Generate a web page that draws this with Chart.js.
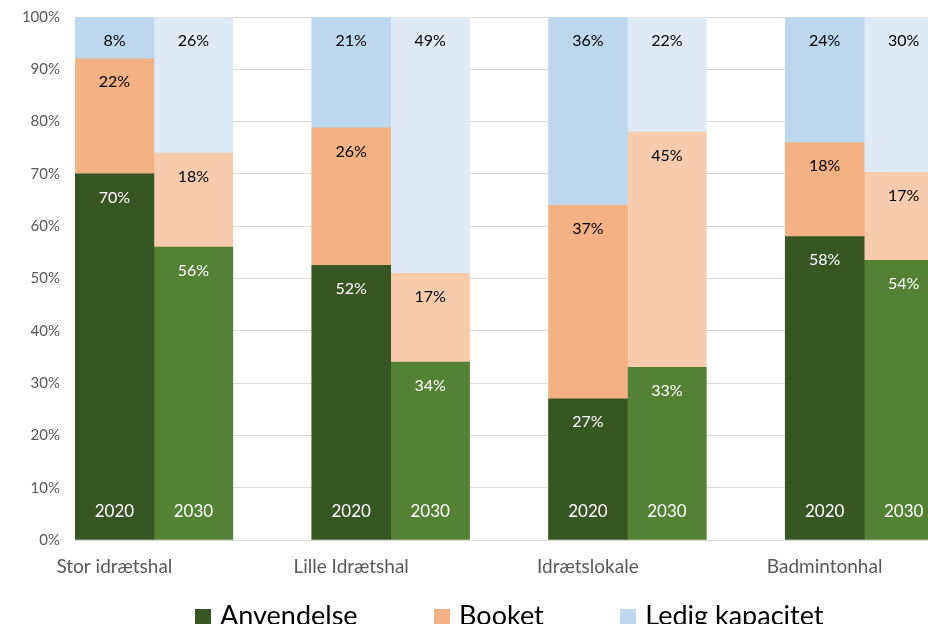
<!DOCTYPE html>
<html>
<head>
<meta charset="utf-8">
<script src="https://cdn.jsdelivr.net/npm/chart.js@4"></script>
<style>
  html, body { margin: 0; padding: 0; background: #fff; overflow: hidden; }
  #wrap { position: absolute; left: 0; top: 0; }
</style>
</head>
<body>
<div id="wrap">
  <canvas id="myChart" width="1022" height="702"></canvas>
</div>
<script>
const ctx = document.getElementById("myChart").getContext("2d");

const categories = ["Stor idrætshal", "Lille Idrætshal", "Idrætslokale", "Badmintonhal"];
const years = ["2020", "2030"];
const seriesNames = ["Anvendelse", "Booket", "Ledig kapacitet"];

// procent pr. hal og år
const anvendelse2020 = [70, 52, 27, 58];
const booket2020 = [22, 26, 37, 18];
const ledig2020 = [8, 21, 36, 24];
const anvendelse2030 = [56, 34, 33, 54];
const booket2030 = [18, 17, 45, 17];
const ledig2030 = [26, 49, 22, 30];

const colors2020 = ["#375623", "#F4B183", "#BDD7EE"];
const colors2030 = ["#548235", "#F8CBAD", "#DEEBF7"];

const FONT = "Lato";
const LEGEND_SIZE = 27;
const LEGEND_PAD = 80;

// 100% stablet: hver søjle skaleres til sin egen sum
function shares(parts, i) {
  const total = parts.reduce((acc, cur) => acc + cur[i], 0);
  return parts.map((p) => (p[i] / total) * 100);
}

function buildSets(year, parts, colors) {
  return parts.map((p, k) => ({
    label: seriesNames[k],
    year: year,
    raw: p,
    data: categories.map((c, i) => shares(parts, i)[k]),
    backgroundColor: colors[k],
    borderWidth: 0,
    stack: year,
    barPercentage: 1,
    categoryPercentage: 1,
  }));
}

const datasets = [
  ...buildSets(years[0], [anvendelse2020, booket2020, ledig2020], colors2020),
  ...buildSets(years[1], [anvendelse2030, booket2030, ledig2030], colors2030),
  // tom plads efter hvert par søjler
  { label: "", data: categories.map(() => null), stack: "gap", barPercentage: 1, categoryPercentage: 1 },
];

// lille firkant til legenden
function swatch(color) {
  const cv = document.createElement("canvas");
  cv.width = 16;
  cv.height = 18;
  const g = cv.getContext("2d");
  g.fillStyle = color;
  g.fillRect(0, 2, 16, 16);
  return cv;
}

const barLabels = {
  id: "barLabels",
  afterDatasetsDraw(chart) {
    const c = chart.ctx;
    c.save();
    c.textAlign = "center";
    c.textBaseline = "middle";
    chart.data.datasets.forEach((ds, di) => {
      if (!ds.raw) return;
      const meta = chart.getDatasetMeta(di);
      const green = ds.label === "Anvendelse";
      meta.data.forEach((bar, i) => {
        c.font = "16px " + FONT;
        c.fillStyle = green ? "#ffffff" : "#000000";
        c.fillText(ds.raw[i] + "%", bar.x, bar.y + 23.5);
        if (green) {
          c.font = "17px " + FONT;
          c.fillText(ds.year, bar.x, bar.base - 27.5);
        }
      });
    });
    c.restore();
  },
};

// legenden skal ligge tættere på aksen end dens padding tillader
const legendPlace = {
  id: "legendPlace",
  afterLayout(chart) {
    chart.legend.top = 616 - LEGEND_SIZE / 2 - LEGEND_PAD;
  },
};

const myChart = new Chart(ctx, {
  type: "bar",
  data: {
    labels: categories,
    datasets: datasets,
  },
  plugins: [barLabels, legendPlace],
  options: {
    responsive: false,
    animation: false,
    layout: { padding: { top: 17, right: 0, bottom: 0, left: 0 } },
    scales: {
      x: {
        stacked: true,
        grid: { display: false },
        border: { display: false },
        ticks: {
          color: "#595959",
          font: { family: FONT, size: 19 },
          padding: 7,
          labelOffset: -79,
          maxRotation: 0,
          autoSkip: false,
        },
        afterFit(scale) {
          scale.height = 45;
        },
      },
      y: {
        stacked: true,
        min: 0,
        max: 100,
        grid: { color: "#d9d9d9", lineWidth: 1, drawTicks: false },
        border: { display: false },
        ticks: {
          stepSize: 10,
          color: "#595959",
          font: { family: FONT, size: 15 },
          padding: 15,
          callback: (v) => v + "%",
        },
        afterFit(scale) {
          scale.width = 75;
          scale.paddingTop = 0;
          scale.paddingBottom = 0;
        },
      },
    },
    plugins: {
      tooltip: { enabled: false },
      legend: {
        position: "bottom",
        labels: {
          color: "#000000",
          font: { family: FONT, size: LEGEND_SIZE },
          usePointStyle: true,
          pointStyleWidth: 8,
          boxHeight: 16,
          padding: LEGEND_PAD,
          generateLabels: () =>
            seriesNames.map((name, k) => ({
              text: name,
              fillStyle: colors2020[k],
              strokeStyle: colors2020[k],
              lineWidth: 0,
              pointStyle: swatch(colors2020[k]),
              datasetIndex: k,
            })),
        },
      },
    },
  },
});
</script>
</body>
</html>
